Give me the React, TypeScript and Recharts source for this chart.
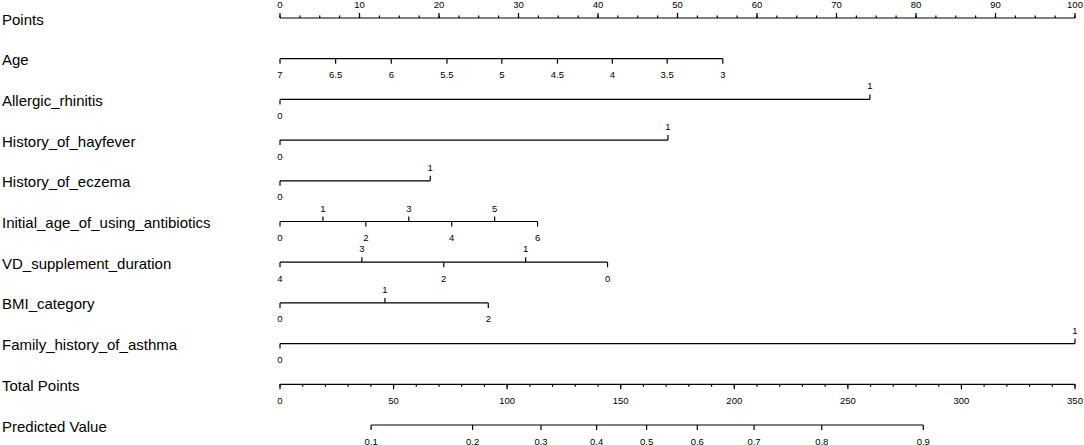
import { ComposedChart, XAxis, YAxis, Scatter, ReferenceLine } from 'recharts';

// row titles, top to bottom
const rowNames = [
  'Points',
  'Age',
  'Allergic_rhinitis',
  'History_of_hayfever',
  'History_of_eczema',
  'Initial_age_of_using_antibiotics',
  'VD_supplement_duration',
  'BMI_category',
  'Family_history_of_asthma',
  'Total Points',
  'Predicted Value',
];

// Points scale (0-100)
const pointsLabels = ['0', '10', '20', '30', '40', '50', '60', '70', '80', '90', '100'];
const pointsValues = [0, 10, 20, 30, 40, 50, 60, 70, 80, 90, 100];
const pointsMinorStep = 2.5;

// predictors: label -> points
const ageLabels = ['7', '6.5', '6', '5.5', '5', '4.5', '4', '3.5', '3'];
const agePoints = [0, 7.0, 14.0, 21.0, 27.9, 34.9, 41.8, 48.7, 55.7];

const rhinitisLabels = ['0', '1'];
const rhinitisPoints = [0, 74.2];

const hayfeverLabels = ['0', '1'];
const hayfeverPoints = [0, 48.8];

const eczemaLabels = ['0', '1'];
const eczemaPoints = [0, 18.9];

const antibioticsLabels = ['0', '1', '2', '3', '4', '5', '6'];
const antibioticsPoints = [0, 5.4, 10.8, 16.2, 21.6, 27.0, 32.4];

const vdLabels = ['4', '3', '2', '1', '0'];
const vdPoints = [0, 10.3, 20.6, 30.9, 41.2];

const bmiLabels = ['0', '1', '2'];
const bmiPoints = [0, 13.2, 26.2];

const familyLabels = ['0', '1'];
const familyPoints = [0, 100];

// Total points scale (0-350)
const TOTAL_MAX = 350;
const totalLabels = ['0', '50', '100', '150', '200', '250', '300', '350'];
const totalValues = [0, 50, 100, 150, 200, 250, 300, 350];
const totalMinorStep = 10;

// predicted probability -> total points
const predLabels = ['0.1', '0.2', '0.3', '0.4', '0.5', '0.6', '0.7', '0.8', '0.9'];
const predTotals = [40.1, 84.8, 114.9, 139.4, 161.4, 183.7, 208.7, 238.5, 283.2];

type Mark = { x: number; y: number; label: string; up: boolean; len: number };

const toPlot = (t: number) => (t * 100) / TOTAL_MAX;

function steps(max: number, step: number) {
  const out: number[] = [];
  for (let v = 0; v <= max + 1e-9; v += step) out.push(v);
  return out;
}

// upIdx = levels whose label sits above the line
function rowMarks(row: number, pts: number[], labels: string[], upIdx: number[]): Mark[] {
  return pts.map((p, i) => ({ x: p, y: row, label: labels[i], up: upIdx.includes(i), len: 5 }));
}

const rows: { marks: Mark[]; from: number; to: number }[] = [
  {
    marks: [
      ...steps(100, pointsMinorStep).map((v) => ({ x: v, y: 0, label: '', up: true, len: 2.5 })),
      ...pointsValues.map((v, i) => ({ x: v, y: 0, label: pointsLabels[i], up: true, len: 5 })),
    ],
    from: 0,
    to: 100,
  },
  { marks: rowMarks(1, agePoints, ageLabels, []), from: 0, to: agePoints[agePoints.length - 1] },
  { marks: rowMarks(2, rhinitisPoints, rhinitisLabels, [1]), from: 0, to: rhinitisPoints[1] },
  { marks: rowMarks(3, hayfeverPoints, hayfeverLabels, [1]), from: 0, to: hayfeverPoints[1] },
  { marks: rowMarks(4, eczemaPoints, eczemaLabels, [1]), from: 0, to: eczemaPoints[1] },
  { marks: rowMarks(5, antibioticsPoints, antibioticsLabels, [1, 3, 5]), from: 0, to: antibioticsPoints[6] },
  { marks: rowMarks(6, vdPoints, vdLabels, [1, 3]), from: 0, to: vdPoints[4] },
  { marks: rowMarks(7, bmiPoints, bmiLabels, [1]), from: 0, to: bmiPoints[2] },
  { marks: rowMarks(8, familyPoints, familyLabels, [1]), from: 0, to: familyPoints[1] },
  {
    marks: [
      ...steps(TOTAL_MAX, totalMinorStep).map((v) => ({ x: toPlot(v), y: 9, label: '', up: false, len: 2.5 })),
      ...totalValues.map((v, i) => ({ x: toPlot(v), y: 9, label: totalLabels[i], up: false, len: 5 })),
    ],
    from: 0,
    to: 100,
  },
  {
    marks: predTotals.map((t, i) => ({ x: toPlot(t), y: 10, label: predLabels[i], up: false, len: 5 })),
    from: toPlot(predTotals[0]),
    to: toPlot(predTotals[predTotals.length - 1]),
  },
];

const FONT = '"Liberation Sans", Arial, sans-serif';

const TickMark = (props: any) => {
  const { cx, cy, payload } = props;
  const dir = payload.up ? -1 : 1;
  return (
    <g>
      <line x1={cx} x2={cx} y1={cy} y2={cy + dir * payload.len} stroke="#000" strokeWidth={1.2} />
      {payload.label ? (
        <text
          x={cx}
          y={payload.up ? cy - 10 : cy + 19.5}
          textAnchor="middle"
          fontSize={9.5}
          fontFamily={FONT}
          fill="#000"
        >
          {payload.label}
        </text>
      ) : null}
    </g>
  );
};

const RowLabel = (props: any) => {
  const { y, payload } = props;
  return (
    <text x={2} y={y + 6.5} fontSize={15} fontFamily={FONT} fill="#000">
      {rowNames[payload.value]}
    </text>
  );
};

export default function App() {
  return (
    <div style={{ width: 1084, height: 445, background: '#fff' }}>
      <style>{'body{margin:0;background:#fff}'}</style>
      <ComposedChart width={1084} height={445} margin={{ top: 18, right: 9, bottom: 20, left: 0 }}>
        <XAxis type="number" dataKey="x" domain={[0, 100]} hide />
        <YAxis
          type="number"
          dataKey="y"
          domain={[0, 10]}
          reversed
          width={280}
          ticks={rowNames.map((_, i) => i)}
          interval={0}
          axisLine={false}
          tickLine={false}
          tick={<RowLabel />}
        />
        {rows.map((r, i) => (
          <ReferenceLine
            key={`line-${i}`}
            segment={[
              { x: r.from, y: i },
              { x: r.to, y: i },
            ]}
            stroke="#000"
            strokeWidth={1.2}
          />
        ))}
        {rows.map((r, i) => (
          <Scatter key={`marks-${i}`} data={r.marks} shape={<TickMark />} isAnimationActive={false} />
        ))}
      </ComposedChart>
    </div>
  );
}
